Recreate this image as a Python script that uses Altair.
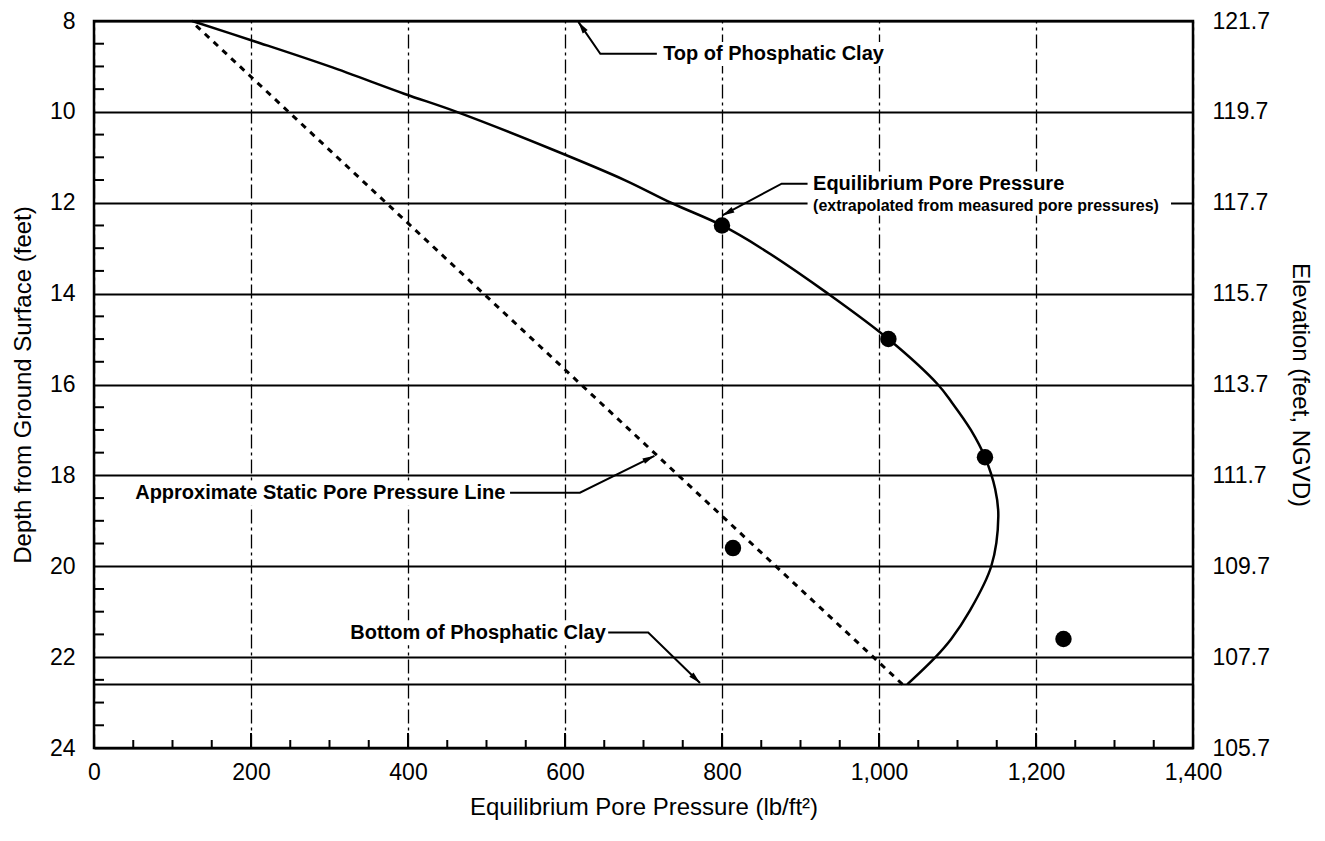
import math
import altair as alt
import pandas as pd

# ---------------- data ----------------
curve_depth = [8.0, 8.45, 9.0, 9.6, 10.0, 10.8, 11.5, 12.0, 12.5, 13.0, 14.0, 15.0,
               16.0, 16.4, 17.0, 17.6, 18.3, 18.9, 20.0, 21.0, 21.6, 22.0, 22.6]
curve_pressure = [125, 205, 300, 395, 462, 580, 676, 735, 800, 850, 935, 1012,
                  1075, 1093, 1117, 1135, 1148, 1152, 1143, 1115, 1092, 1072, 1036]

point_pressure = [800, 1012, 1135, 814, 1235]
point_depth = [12.5, 15.0, 17.6, 19.6, 21.6]

static_pressure = [130, 1030]
static_depth = [8.1, 22.6]

clay_bottom_depth = [22.6]

x_labels = [0, 200, 400, 600, 800, 1000, 1200, 1400]
y_labels = [8, 10, 12, 14, 16, 18, 20, 22, 24]
elev_labels = [121.7, 119.7, 117.7, 115.7, 113.7, 111.7, 109.7, 107.7, 105.7]

x_minor = [v for v in range(50, 1400, 50) if v % 200 != 0]
x_major = [200, 400, 600, 800, 1000, 1200]
y_minor = [8 + 0.5 * i for i in range(1, 32) if (8 + 0.5 * i) % 2 != 0]

ann_labels = ["Top of Phosphatic Clay", "Equilibrium Pore Pressure",
              "(extrapolated from measured pore pressures)",
              "Approximate Static Pore Pressure Line", "Bottom of Phosphatic Clay"]
ann_x = [725, 916, 916, 524, 652]
ann_y = [8.72, 11.58, 12.08, 18.38, 21.46]

box_x0 = [717, 909, 44, 326]
box_x1 = [1020, 1372, 530, 657]
box_y0 = [8.46, 11.31, 18.12, 21.19]
box_y1 = [8.99, 12.28, 18.67, 21.74]

leader_id = ["A"] * 3 + ["B"] * 3 + ["C"] * 3 + ["D"] * 3
leader_x = [717, 645, 617, 909, 876, 800.5, 530, 619, 714, 655, 706, 772]
leader_y = [8.72, 8.72, 8.02, 11.58, 11.58, 12.28, 18.38, 18.38, 17.57, 21.46, 21.46, 22.57]

# ---------------- layout ----------------
W, H = 1099, 727
X_DOM = [0, 1400]
Y_DOM = [8, 24]
FONT = "Liberation Sans"
ELEV_AT_TOP = elev_labels[0]

xs = alt.Scale(domain=X_DOM, nice=False, zero=False)
ys = alt.Scale(domain=Y_DOM, reverse=True, nice=False, zero=False)

curve_df = pd.DataFrame({"p": curve_pressure, "d": curve_depth})
pts_df = pd.DataFrame({"p": point_pressure, "d": point_depth})
static_df = pd.DataFrame({"p": static_pressure, "d": static_depth})
clay_df = pd.DataFrame({"d": clay_bottom_depth})
text_df = pd.DataFrame({"t": ann_labels, "p": ann_x, "d": ann_y})
box_df = pd.DataFrame({"x0": box_x0, "x1": box_x1, "y0": box_y0, "y1": box_y1})
lead_df = pd.DataFrame({"id": leader_id, "k": list(range(len(leader_x))),
                        "p": leader_x, "d": leader_y})
elev_df = pd.DataFrame({"e": elev_labels,
                        "d": [Y_DOM[0] + (ELEV_AT_TOP - e) for e in elev_labels]})

# arrow head angles from the last two points of each leader (pixel space)
heads = []
for lid in ["A", "B", "C", "D"]:
    sub = lead_df[lead_df["id"] == lid]
    (x1, y1), (x2, y2) = sub[["p", "d"]].values[-2], sub[["p", "d"]].values[-1]
    dxp = (x2 - x1) * W / (X_DOM[1] - X_DOM[0])
    dyp = (y2 - y1) * H / (Y_DOM[1] - Y_DOM[0])
    ang = math.degrees(math.atan2(dxp, -dyp)) % 360
    heads.append({"p": x2, "d": y2, "ang": ang})
head_df = pd.DataFrame(heads)

x_axis = alt.Axis(orient="bottom", values=x_labels, format=",.0f",
                  title="Equilibrium Pore Pressure  (lb/ft²)",
                  grid=True, gridColor="black", gridWidth=1.3, gridDash=[14, 4, 3, 4],
                  domain=False, ticks=False,
                  labelPadding=13, labelFontSize=23, titleFontSize=24, titlePadding=11,
                  labelFlush=False, labelOverlap=False)
y_axis = alt.Axis(orient="left", values=y_labels, title="Depth from Ground Surface (feet)",
                  grid=True, gridColor="black", gridWidth=1.8,
                  domain=False, ticks=False, labelPadding=19, labelFontSize=23,
                  titleFontSize=24, titlePadding=14, labelFlush=False, labelOverlap=False)
elev_axis = alt.Axis(orient="right", values=list(elev_df["d"]),
                     labelExpr=f"format({ELEV_AT_TOP + Y_DOM[0]} - datum.value, '.1f')",
                     grid=False, domain=False, ticks=False, labelPadding=19, labelFontSize=23,
                     title="Elevation (feet, NGVD)", titleFontSize=24, titlePadding=18,
                     labelFlush=False, labelOverlap=False)

NOAX = dict(scale=ys, axis=None)

clay_rule = alt.Chart(clay_df).mark_rule(color="black", strokeWidth=2).encode(
    y=alt.Y("d:Q", **NOAX))

static_line = alt.Chart(static_df).mark_line(color="black", strokeWidth=3, strokeDash=[6, 6]).encode(
    x=alt.X("p:Q", scale=xs, axis=None), y=alt.Y("d:Q", **NOAX))

curve = alt.Chart(curve_df).mark_line(color="black", strokeWidth=2.5, interpolate="catmull-rom").encode(
    x=alt.X("p:Q", scale=xs, axis=x_axis),
    y=alt.Y("d:Q", scale=ys, axis=y_axis),
    order=alt.Order("d:Q"))

elev = alt.Chart(elev_df).mark_point(opacity=0).encode(
    y=alt.Y("d:Q", scale=ys, axis=elev_axis))

boxes = alt.Chart(box_df).mark_rect(color="white").encode(
    x=alt.X("x0:Q", scale=xs, axis=None), x2="x1:Q",
    y=alt.Y("y0:Q", **NOAX), y2="y1:Q")

def text_layer(rows, align, size):
    return alt.Chart(text_df.iloc[rows]).mark_text(
        align=align, baseline="middle", font=FONT, fontSize=size, fontWeight="bold", color="black"
    ).encode(x=alt.X("p:Q", scale=xs, axis=None), y=alt.Y("d:Q", **NOAX), text="t:N")

texts_left = text_layer([0, 1], "left", 20)
texts_small = text_layer([2], "left", 16)
texts_right = text_layer([3, 4], "right", 20)

leaders = alt.Chart(lead_df).mark_line(color="black", strokeWidth=2).encode(
    x=alt.X("p:Q", scale=xs, axis=None), y=alt.Y("d:Q", **NOAX),
    detail="id:N", order=alt.Order("k:Q"))

arrow_path = "M0,0L-0.55,2.2L0.55,2.2Z"
heads_layer = alt.Chart(head_df).mark_point(shape=arrow_path, filled=True, color="black",
                                            size=120, opacity=1, strokeWidth=0).encode(
    x=alt.X("p:Q", scale=xs, axis=None), y=alt.Y("d:Q", **NOAX),
    angle=alt.Angle("ang:Q", scale=None))

points = alt.Chart(pts_df).mark_circle(color="black", size=270, opacity=1).encode(
    x=alt.X("p:Q", scale=xs, axis=None), y=alt.Y("d:Q", **NOAX))

xminor = alt.Chart(pd.DataFrame({"p": x_minor})).mark_rule(color="black", strokeWidth=2).encode(
    x=alt.X("p:Q", scale=xs, axis=None), y=alt.value(H), y2=alt.value(H - 8))
xmajor = alt.Chart(pd.DataFrame({"p": x_major})).mark_rule(color="black", strokeWidth=2).encode(
    x=alt.X("p:Q", scale=xs, axis=None), y=alt.value(H), y2=alt.value(H - 15))
yminor = alt.Chart(pd.DataFrame({"d": y_minor})).mark_rule(color="black", strokeWidth=2).encode(
    y=alt.Y("d:Q", **NOAX), x=alt.value(0), x2=alt.value(10))

chart = alt.layer(curve, elev, clay_rule, static_line, boxes, texts_left, texts_small, texts_right,
                  leaders, heads_layer, points, xminor, xmajor, yminor
).resolve_axis(x="independent", y="independent").properties(
    width=W, height=H,
    autosize=alt.AutoSizeParams(type="none"),
    padding={"left": 86, "top": 13, "right": 124, "bottom": 78},
    background="white",
).configure_view(stroke="black", strokeWidth=2.5).configure_axis(
    labelFont=FONT, titleFont=FONT, labelColor="black", titleColor="black",
    titleFontWeight="normal")

chart.save("out.html", embed_options={"renderer": "svg", "actions": False})
